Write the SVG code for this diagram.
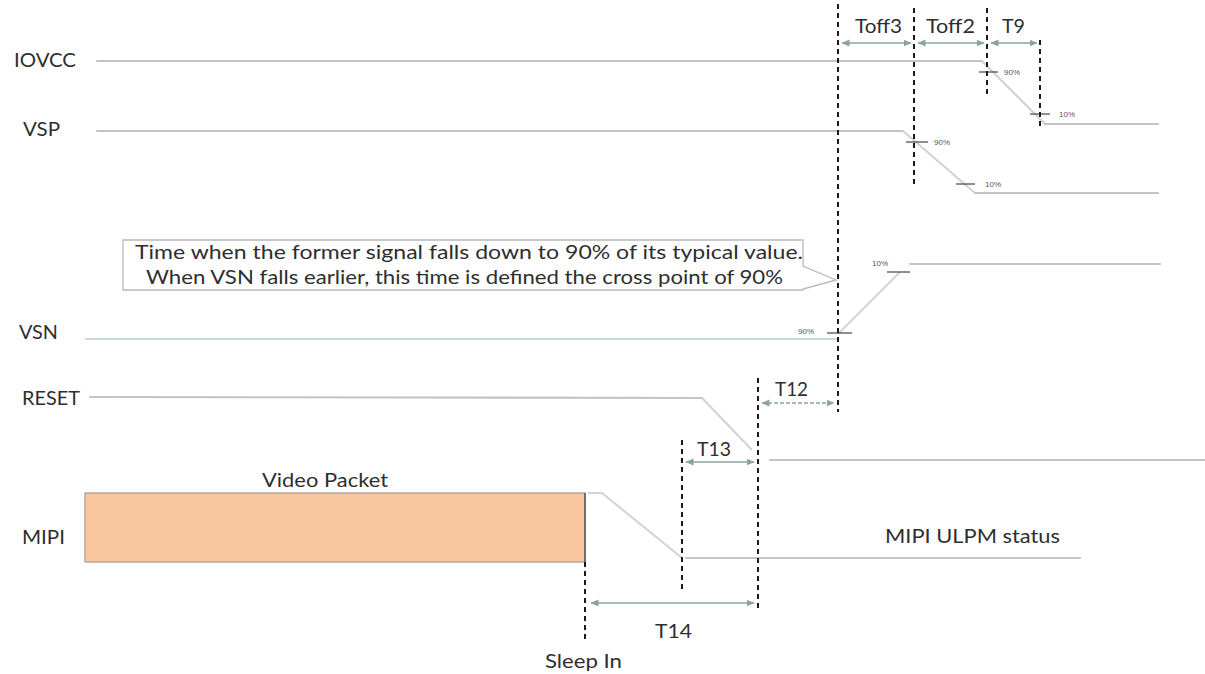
<svg xmlns="http://www.w3.org/2000/svg" width="1205" height="674" viewBox="0 0 1205 674">
<style>
.lbl{font-family:Lato,"Liberation Sans",Arial,sans-serif;font-size:19px;fill:#2e2e2e}
.pct{font-family:"Liberation Sans",Arial,sans-serif;font-size:8px;fill:#555}
.sig{fill:none;stroke:#c4c4c4;stroke-width:2.2;stroke-linecap:round}
.slope{fill:none;stroke:#d2d2d2;stroke-width:2}
.tick{stroke:#444;stroke-width:1.2}
.dash{stroke:#1a1a1a;stroke-width:2;stroke-dasharray:5 4}
.dim{stroke:#8aa59c;stroke-width:1.3;fill:none;marker-start:url(#ah);marker-end:url(#ah)}
</style>
<defs>
<marker id="ah" viewBox="0 0 8 8" refX="7.5" refY="4" markerWidth="8" markerHeight="8" markerUnits="userSpaceOnUse" orient="auto-start-reverse">
<path d="M0,0.5 L8,4 L0,7.5 z" fill="#8aa59c"/>
</marker>
</defs>
<rect width="1205" height="674" fill="#ffffff"/>

<g id="iovcc">
<text class="lbl" x="14" y="67" textLength="62" lengthAdjust="spacingAndGlyphs">IOVCC</text>
<polyline class="sig" points="97,61 982,61"/>
<polyline class="slope" points="982,61 1045,124"/>
<polyline class="sig" points="1045,124 1158,124"/>
<line class="tick" x1="979" y1="72" x2="998" y2="72"/>
<text class="pct" x="1004" y="75">90%</text>
<line class="tick" x1="1030" y1="114" x2="1050" y2="114"/>
<text class="pct" x="1059" y="117">10%</text>
</g>

<g id="vsp">
<text class="lbl" x="23" y="136" textLength="37" lengthAdjust="spacingAndGlyphs">VSP</text>
<polyline class="sig" points="97,131 903,131"/>
<polyline class="slope" points="903,131 975,193"/>
<polyline class="sig" points="975,193 1158,193"/>
<line class="tick" x1="906" y1="142" x2="928" y2="142"/>
<text class="pct" x="934" y="145">90%</text>
<line class="tick" x1="956" y1="184" x2="975" y2="184"/>
<text class="pct" x="985" y="187">10%</text>
</g>

<g id="callout">
<path d="M123,240 H803 V266 L836,280 L803,289 V290 H123 Z" fill="#ffffff" stroke="#b8b8b8" stroke-width="1.3"/>
<text class="lbl" x="135" y="259" textLength="668" lengthAdjust="spacingAndGlyphs">Time when the former signal falls down to 90% of its typical value.</text>
<text class="lbl" x="146" y="284" textLength="637" lengthAdjust="spacingAndGlyphs">When VSN falls earlier, this time is defined the cross point of 90%</text>
</g>

<g id="vsn">
<text class="lbl" x="19" y="339" textLength="39" lengthAdjust="spacingAndGlyphs">VSN</text>
<polyline points="85,339 838,339" fill="none" stroke="#c8dcd6" stroke-width="2.2"/>
<polyline class="slope" points="838,334 900,272"/>
<polyline class="sig" points="910,264 1160,264"/>
<line class="tick" x1="827" y1="333" x2="852" y2="333"/>
<text class="pct" x="798" y="334">90%</text>
<line class="tick" x1="887" y1="272" x2="910" y2="272"/>
<text class="pct" x="872" y="266">10%</text>
</g>

<g id="reset">
<text class="lbl" x="22" y="405" textLength="58" lengthAdjust="spacingAndGlyphs">RESET</text>
<polyline class="sig" points="90,397 702,398"/>
<polyline class="slope" points="702,398 752,450"/>
<polyline class="sig" points="770,460 1205,460"/>
</g>

<g id="mipi">
<text class="lbl" x="22" y="544" textLength="43" lengthAdjust="spacingAndGlyphs">MIPI</text>
<rect x="85" y="493" width="500" height="69" fill="#f9c6a0" stroke="#b9a898" stroke-width="1.5"/>
<line x1="585" y1="493" x2="585" y2="562" stroke="#555" stroke-width="1.5"/>
<text class="lbl" x="262" y="487" textLength="126" lengthAdjust="spacingAndGlyphs">Video Packet</text>
<polyline class="slope" points="588,493 602,493 682,558"/>
<polyline class="sig" points="686,558 1080,558"/>
<text class="lbl" x="885" y="543" textLength="175" lengthAdjust="spacingAndGlyphs">MIPI ULPM status</text>
<text class="lbl" x="545" y="668" textLength="77" lengthAdjust="spacingAndGlyphs">Sleep In</text>
</g>

<g id="connectors">
<line class="dash" x1="838" y1="4" x2="838" y2="412"/>
<line class="dash" x1="914" y1="8" x2="914" y2="184"/>
<line class="dash" x1="987" y1="8" x2="987" y2="98"/>
<line class="dash" x1="1040" y1="40" x2="1040" y2="128"/>
<line class="dash" x1="758" y1="378" x2="758" y2="612"/>
<line class="dash" x1="682" y1="440" x2="682" y2="590"/>
<line class="dash" x1="585" y1="562" x2="585" y2="642"/>
<line class="dim" x1="842" y1="43" x2="911" y2="43"/>
<line class="dim" x1="918" y1="43" x2="984" y2="43"/>
<line class="dim" x1="991" y1="43" x2="1037" y2="43"/>
<line class="dim" x1="762" y1="403" x2="834" y2="403" stroke-dasharray="4 2"/>
<line class="dim" x1="686" y1="462" x2="754" y2="462"/>
<line class="dim" x1="591" y1="603" x2="754" y2="603"/>
<text class="lbl" x="855" y="33" textLength="47" lengthAdjust="spacingAndGlyphs">Toff3</text>
<text class="lbl" x="926" y="33" textLength="49" lengthAdjust="spacingAndGlyphs">Toff2</text>
<text class="lbl" x="1002" y="33" textLength="23" lengthAdjust="spacingAndGlyphs">T9</text>
<text class="lbl" x="775" y="396" textLength="33" lengthAdjust="spacingAndGlyphs">T12</text>
<text class="lbl" x="697" y="456" textLength="34" lengthAdjust="spacingAndGlyphs">T13</text>
<text class="lbl" x="655" y="638" textLength="37" lengthAdjust="spacingAndGlyphs">T14</text>
</g>
</svg>
